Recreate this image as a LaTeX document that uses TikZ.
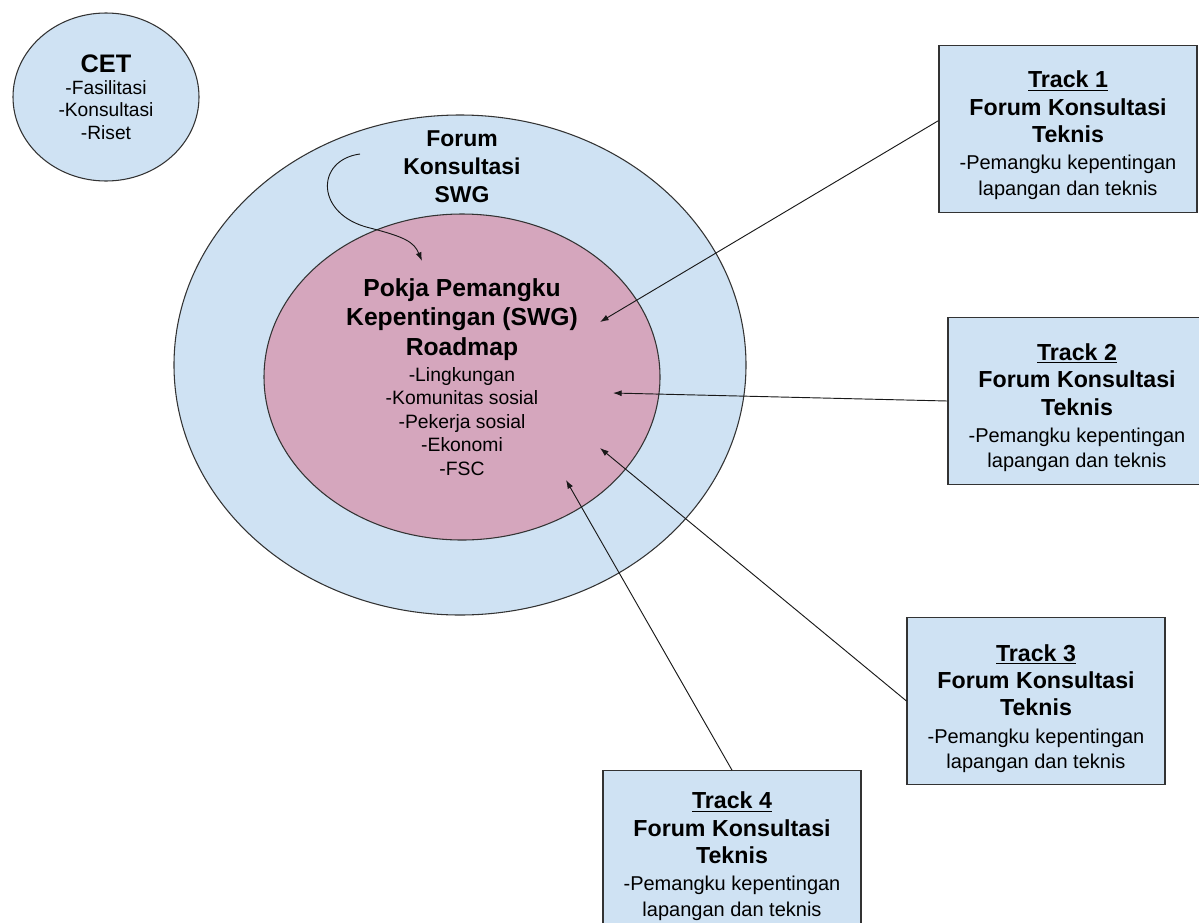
\documentclass[tikz,border=0pt]{standalone}
\usepackage{fontspec}
\setmainfont{Liberation Sans}
\usetikzlibrary{shapes.geometric,arrows.meta,calc}
\definecolor{lblue}{HTML}{CFE2F3}
\definecolor{lpink}{HTML}{D5A6BD}
\definecolor{edge}{HTML}{333333}
\newcommand\tbold[1]{{\bfseries\fontsize{17.4}{19}\selectfont #1}}
\newcommand\ibold[1]{{\bfseries\fontsize{18.5}{20}\selectfont #1}}
\newcommand\tracktext[2]{\tbold{\rule{0pt}{#2}\underline{Track #1}}\\[1.5pt]\tbold{Forum Konsultasi}\\[1.5pt]\tbold{Teknis}\\[1.5pt]-Pemangku kepentingan\\lapangan dan teknis}
\begin{document}
\begin{tikzpicture}[x=0.75pt,y=-0.75pt,
  ell/.style={ellipse, draw=edge, line width=0.8pt, inner sep=0pt, align=center},
  trackbox/.style={draw=edge, line width=0.8pt, fill=lblue, minimum width=193.5pt,
    minimum height=125pt, inner sep=0pt, align=center, font=\fontsize{15}{19}\selectfont},
  arr/.style={draw=black!90, line width=0.7pt, -{Latex[length=6.5pt,width=4.5pt]}},
  lbl/.style={align=center, inner sep=0pt}]
\useasboundingbox (0,0) rectangle (1199,922);
% circles
\node[ell, fill=lblue, minimum width=429pt, minimum height=375pt] (outer) at (460,365) {};
\node[ell, fill=lpink, minimum width=297pt, minimum height=244.5pt,
  font=\fontsize{14.5}{17.6}\selectfont] (inner) at (462,377)
  {\ibold{Pokja Pemangku}\\[4.5pt]\ibold{Kepentingan (SWG)}\\[4.5pt]\ibold{Roadmap}\\[2pt]-Lingkungan\\-Komunitas sosial\\-Pekerja sosial\\-Ekonomi\\-FSC};
\node[lbl, font=\bfseries\fontsize{17.2}{21}\selectfont] (swg) at (462,167) {Forum\\Konsultasi\\SWG};
\node[ell, fill=lblue, minimum width=139.5pt, minimum height=126pt,
  font=\fontsize{14.4}{16.8}\selectfont] (cet) at (106,97)
  {{\bfseries\fontsize{19}{20}\selectfont CET}\\-Fasilitasi\\-Konsultasi\\-Riset};
% track boxes
\node[trackbox] (t1) at (1068,129) {\tracktext{1}{22pt}};
\node[trackbox] (t2) at (1077,401) {\tracktext{2}{23pt}};
\node[trackbox] (t3) at (1036,701) {\tracktext{3}{24pt}};
\node[trackbox] (t4) at (732,854) {\tracktext{4}{16pt}};
% arrow tips
\coordinate (tip1) at (600,322);
\coordinate (tip2) at (613,393);
\coordinate (tip3) at (600,448);
\coordinate (tip4) at (566,480);
\coordinate (cs) at (360,154);
\coordinate (ct) at (422,261);
% connectors
\draw[arr] ($(t1.north west)!0.45!(t1.south west)$) -- (tip1);
\draw[arr] (t2.west) -- (tip2);
\draw[arr] (t3.west) -- (tip3);
\draw[arr] (t4.north) -- (tip4);
\draw[arr] (cs) .. controls (315,160) and (315,215) .. (370,228) .. controls (405,237) and (414,242) .. (ct);
\end{tikzpicture}
\end{document}
